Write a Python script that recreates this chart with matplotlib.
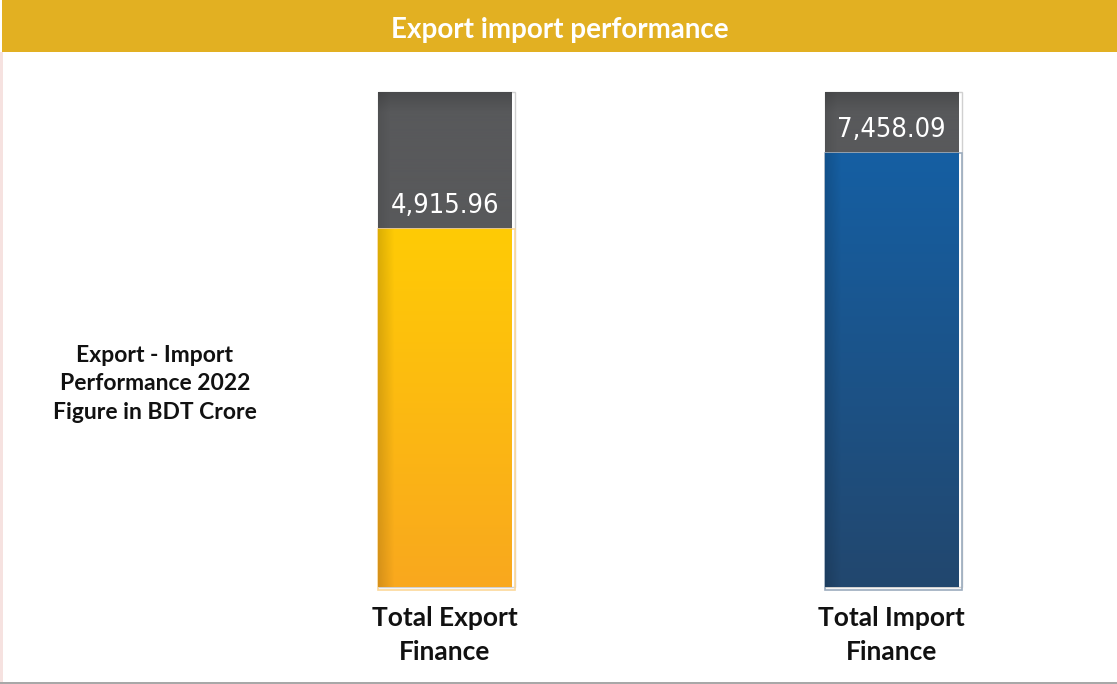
import numpy as np
import matplotlib
matplotlib.use("Agg")
import matplotlib.pyplot as plt
from matplotlib.patches import Rectangle
from matplotlib.colors import to_rgb
import matplotlib.transforms as mtransforms
from matplotlib import font_manager

# ---- data ----
categories = ["Total Export\nFinance", "Total Import\nFinance"]
values = [4915.96, 7458.09]
value_labels = ["4,915.96", "7,458.09"]
title = "Export import performance"
side_note = "Export - Import\nPerformance 2022\nFigure in BDT Crore"

# ---- style / layout ----
W, H, DPI = 1117, 684, 100
scale_floor = -7096.0     # value at bottom of the bar track (infographic scale)
scale_top = 9517.0        # value at top of the gray track
track_bottom_px, track_top_px = 587, 92   # from top of image
x_px = [445, 891.5]
bar_w_px = 134
fill_top_cols = ["#FFCB05", "#155FA3"]
fill_bot_cols = ["#F9A81E", "#22476E"]
track_col = "#58595B"
banner_col = "#E2B022"

names = {f.name for f in font_manager.fontManager.ttflist}
if "Liberation Sans Narrow" in names:
    num_font = dict(family=["Liberation Sans Narrow", "DejaVu Sans"], fontsize=22)
else:
    num_font = dict(family=["DejaVu Sans"], fontstretch="condensed", fontsize=19.5)

fig = plt.figure(figsize=(W / DPI, H / DPI), dpi=DPI)
fig.patch.set_facecolor("white")
ax = fig.add_axes([0, 0, 1, 1])
ax.set_axis_off()

sx = x_px[1] - x_px[0]
ax.set_xlim(-x_px[0] / sx, (W - x_px[0]) / sx)
sy = (track_bottom_px - track_top_px) / (scale_top - scale_floor)
ymin = scale_floor - (H - track_bottom_px) / sy
ymax = scale_top + track_top_px / sy
ax.set_ylim(ymin, ymax)
bw = bar_w_px / sx

xs = np.arange(len(values))


def gradient_image(top, bot, shade_frac, shade_amt, ny=256, nx=134, top_dark=None):
    t = np.linspace(0, 1, ny)[:, None]
    top = np.array(to_rgb(top)); bot = np.array(to_rgb(bot))
    col = top[None, None, :] * (1 - t[..., None]) + bot[None, None, :] * t[..., None]
    col = np.repeat(col, nx, axis=1)
    u = np.linspace(0, 1, nx)[None, :]
    shade = 1 - shade_amt * np.clip(1 - u / shade_frac, 0, 1)
    col = col * shade[..., None]
    if top_dark is not None:
        frac, amt = top_dark
        tt = np.clip(1 - t / frac, 0, 1)
        col = col * (1 - amt * tt)[..., None]
    return np.clip(col, 0, 1)


# gray tracks
tracks = ax.bar(xs, [scale_top - scale_floor] * len(xs), bottom=scale_floor, width=bw,
                color=track_col, linewidth=0, zorder=2)
for rect in tracks:
    x0 = rect.get_x(); y0 = rect.get_y()
    img = gradient_image(track_col, track_col, 0.09, 0.08, top_dark=(0.04, 0.15))
    im = ax.imshow(img, extent=(x0, x0 + rect.get_width(), y0, y0 + rect.get_height()),
                   aspect="auto", zorder=3, interpolation="bilinear")
    im.set_clip_path(rect)
    pad = 3 / sx
    ax.add_patch(Rectangle((x0, y0), rect.get_width() + pad, rect.get_height(),
                           fill=False, edgecolor="#D0D0D0", linewidth=1.0, zorder=1.5))

# filled bars
fills = ax.bar(xs, np.array(values) - scale_floor, bottom=scale_floor, width=bw,
               color="none", linewidth=0, zorder=4)
for i, rect in enumerate(fills):
    x0 = rect.get_x(); y0 = rect.get_y()
    img = gradient_image(fill_top_cols[i], fill_bot_cols[i], 0.12, 0.14)
    im = ax.imshow(img, extent=(x0, x0 + rect.get_width(), y0, y0 + rect.get_height()),
                   aspect="auto", zorder=5, interpolation="bilinear")
    im.set_clip_path(rect)
    light = np.array(to_rgb(fill_bot_cols[i])) * 0.45 + 0.55
    padx = 3 / sx
    pady = 3 / sy
    ax.add_patch(Rectangle((x0, y0 - pady), rect.get_width() + padx, rect.get_height() + pady,
                           fill=False, edgecolor=light, linewidth=1.2, zorder=4.5))

# value labels
for i, v in enumerate(values):
    ax.annotate(value_labels[i], (xs[i], v), xytext=(0, 16), textcoords="offset pixels",
                ha="center", va="baseline", color="white", zorder=6, **num_font)

# category labels
trans = mtransforms.blended_transform_factory(ax.transData, fig.transFigure)
for i, c in enumerate(categories):
    ax.text(xs[i], 1 - 635 / H, c, transform=trans, ha="center", va="center",
            fontsize=19, fontweight="bold", family=["Lato", "DejaVu Sans"],
            color="#111111", linespacing=1.45)

# side note
fig.text(155 / W, 1 - 384 / H, side_note, ha="center", va="center", fontsize=16.5,
         fontweight="bold", family=["Lato", "DejaVu Sans"], color="#111111",
         linespacing=1.42)

# banner
fig.patches.append(Rectangle((2 / W, 1 - 52 / H), 1, 52 / H, transform=fig.transFigure,
                             facecolor=banner_col, edgecolor="none", zorder=0))
fig.text(560 / W, 1 - 30 / H, title, ha="center", va="center", color="white",
         fontsize=20, fontweight="bold", family=["Lato", "DejaVu Sans"])

# left pink strip and bottom rule
fig.patches.append(Rectangle((0, 0), 2.5 / W, 1 - 52 / H, transform=fig.transFigure,
                             facecolor="#F6E2E0", edgecolor="none", zorder=0))
fig.patches.append(Rectangle((0, 0), 1, 2.5 / H, transform=fig.transFigure,
                             facecolor="#A8A8A8", edgecolor="none", zorder=0))

fig.savefig("out.png", dpi=DPI, facecolor="white")
